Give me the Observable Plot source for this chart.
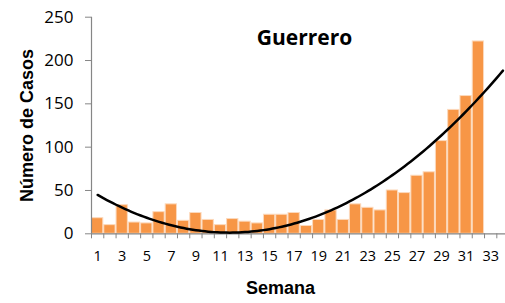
<!DOCTYPE html>
<html>
<head>
<meta charset="utf-8">
<script src="https://cdn.jsdelivr.net/npm/d3@7"></script>
<script src="https://cdn.jsdelivr.net/npm/@observablehq/plot@0.6"></script>
<style>
  html, body { margin: 0; padding: 0; background: white; overflow: hidden; }
</style>
</head>
<body>
<div id="chart"></div>
<script>
const title = "Guerrero";
const xTitle = "Semana";
const yTitle = "Número de Casos";
const weeks = [1,2,3,4,5,6,7,8,9,10,11,12,13,14,15,16,17,18,19,20,21,22,23,24,25,26,27,28,29,30,31,32];
const cases = [18,10,33,13,12,25,34,15,24,16,10,17,14,12,22,22,24,9,16,27,16,34,30,27,50,47,67,71,107,143,159,222];
const xTickLabels = [1,3,5,7,9,11,13,15,17,19,21,23,25,27,29,31,33];
const yTicks = [0,50,100,150,200,250];
const forecastTo = 34;

const data = weeks.map((w, i) => ({week: w, cases: cases[i]}));

// Least-squares quadratic (polynomial order 2) trend line fitted to the data
function quadFit(xs, ys) {
  let n = xs.length, s1 = 0, s2 = 0, s3 = 0, s4 = 0, t0 = 0, t1 = 0, t2 = 0;
  for (let i = 0; i < n; i++) {
    const x = xs[i], y = ys[i];
    s1 += x; s2 += x*x; s3 += x*x*x; s4 += x*x*x*x;
    t0 += y; t1 += x*y; t2 += x*x*y;
  }
  const A = [[n, s1, s2],[s1, s2, s3],[s2, s3, s4]];
  const B = [t0, t1, t2];
  const det = m => m[0][0]*(m[1][1]*m[2][2]-m[1][2]*m[2][1]) - m[0][1]*(m[1][0]*m[2][2]-m[1][2]*m[2][0]) + m[0][2]*(m[1][0]*m[2][1]-m[1][1]*m[2][0]);
  const D = det(A);
  const coef = [0,1,2].map(k => det(A.map((row, r) => row.map((v, c) => c === k ? B[r] : v))) / D);
  return x => coef[0] + coef[1]*x + coef[2]*x*x;
}
const f = quadFit(weeks, cases);
const trend = d3.range(weeks[0], forecastTo + 0.001, 0.25).map(x => ({x, y: f(x)}));
const boundaries = d3.range(0.5, forecastTo + 1, 1);

const axisGray = "#868686";

const chart = Plot.plot({
  width: 505,
  height: 303,
  marginLeft: 91,
  marginRight: 0,
  marginTop: 16.7,
  marginBottom: 69.7,
  style: {fontFamily: "'Open Sans', sans-serif", background: "white", overflow: "hidden"},
  x: {type: "linear", domain: [0.5, forecastTo + 0.5], range: [91, 508.6]},
  y: {domain: [0, 250], range: [233.3, 16.7]},
  marks: [
    Plot.rectY(data, {x1: d => d.week - 0.5, x2: d => d.week + 0.5, y: "cases", fill: "#F79646", stroke: "#FCD9BC", strokeWidth: 1, insetLeft: 0.5, insetRight: 0.5}),
    Plot.ruleY([0], {stroke: axisGray, strokeWidth: 1.2}),
    Plot.ruleX([0.5], {stroke: axisGray, strokeWidth: 1.2}),
    Plot.axisY({ticks: yTicks, tickSize: 6, tickPadding: 12, fontSize: 17, stroke: axisGray, fill: "black", label: null}),
    Plot.axisX({ticks: boundaries, tickSize: 5, tickFormat: () => "", stroke: axisGray, label: null}),
    Plot.axisX({ticks: xTickLabels, tickSize: 0, tickPadding: 17, fontSize: 14.5, fill: "black", label: null}),
    Plot.line(trend, {x: "x", y: "y", stroke: "black", strokeWidth: 2.5}),
    Plot.text([title], {frameAnchor: "top", dx: 6, dy: 21, lineAnchor: "middle", fontSize: 21, fontWeight: "bold", fill: "black"}),
    Plot.text([xTitle], {frameAnchor: "bottom", dx: -18, dy: 54.7, lineAnchor: "middle", fontSize: 18, fontWeight: "bold", fontFamily: "'Liberation Sans', Arial, sans-serif", fill: "black"}),
    Plot.text([yTitle], {frameAnchor: "left", dx: -64, rotate: -90, textAnchor: "middle", lineAnchor: "middle", fontSize: 18, fontWeight: "bold", fontFamily: "'Liberation Sans', Arial, sans-serif", fill: "black"})
  ]
});
document.getElementById("chart").appendChild(chart);
</script>
</body>
</html>
